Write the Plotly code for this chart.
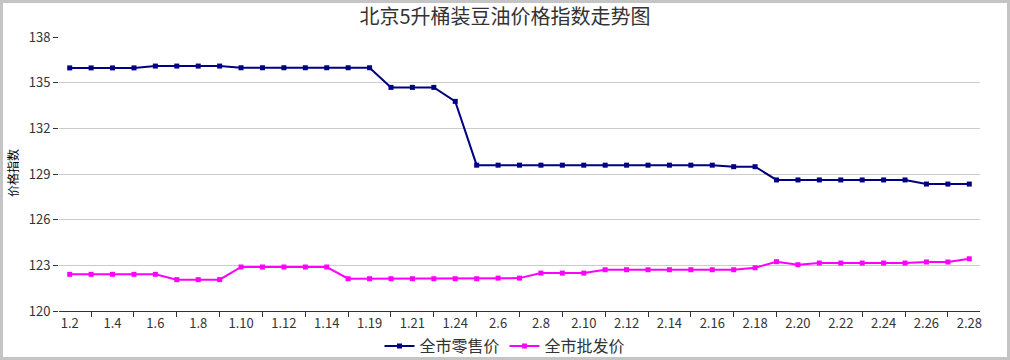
import plotly.graph_objects as go

dates = ["1.2", "1.3", "1.4", "1.5", "1.6", "1.7", "1.8", "1.9", "1.10", "1.11",
         "1.12", "1.13", "1.14", "1.15", "1.19", "1.20", "1.21", "1.22", "1.24", "1.25",
         "2.6", "2.7", "2.8", "2.9", "2.10", "2.11", "2.12", "2.13", "2.14", "2.15",
         "2.16", "2.17", "2.18", "2.19", "2.20", "2.21", "2.22", "2.23", "2.24", "2.25",
         "2.26", "2.27", "2.28"]

retail = [135.97, 135.97, 135.97, 135.97, 136.09, 136.09, 136.09, 136.09, 135.98, 135.98,
          135.98, 135.98, 135.98, 135.98, 135.98, 134.69, 134.69, 134.69, 133.77, 129.58,
          129.58, 129.58, 129.58, 129.58, 129.58, 129.58, 129.58, 129.58, 129.58, 129.58,
          129.58, 129.48, 129.48, 128.61, 128.61, 128.61, 128.61, 128.61, 128.61, 128.61,
          128.34, 128.34, 128.34]

wholesale = [122.41, 122.41, 122.41, 122.41, 122.41, 122.06, 122.06, 122.06, 122.89, 122.89,
             122.89, 122.89, 122.89, 122.12, 122.12, 122.12, 122.12, 122.12, 122.12, 122.12,
             122.16, 122.16, 122.49, 122.49, 122.49, 122.71, 122.71, 122.71, 122.71, 122.71,
             122.71, 122.71, 122.84, 123.24, 123.04, 123.15, 123.15, 123.15, 123.15, 123.15,
             123.22, 123.22, 123.43]

series_names = ["全市零售价", "全市批发价"]
title_text = "北京5升桶装豆油价格指数走势图"
y_title = "价格指数"

FONT = "Noto Sans CJK SC, Noto Sans, sans-serif"
idx = list(range(len(dates)))

fig = go.Figure()
fig.add_trace(go.Scatter(
    x=idx, y=retail, name=series_names[0], mode="lines+markers",
    line=dict(color="#000080", width=2),
    marker=dict(symbol="square", size=5, color="#000080"),
))
fig.add_trace(go.Scatter(
    x=idx, y=wholesale, name=series_names[1], mode="lines+markers",
    line=dict(color="#ff00ff", width=2),
    marker=dict(symbol="square", size=5, color="#ff00ff"),
))

L, R, T, B = 59, 30, 37, 49
W, H = 1010, 360
pw, ph = W - L - R, H - T - B

def px_x(p):
    return (p - L) / pw

def px_y(p):
    return (H - B - p) / ph

fig.update_layout(
    width=W, height=H,
    margin=dict(l=L, r=R, t=T, b=B, pad=0, autoexpand=False),
    paper_bgcolor="white", plot_bgcolor="white",
    font=dict(family=FONT, color="#333333", size=13),
    title=dict(text=title_text, x=0.5, xref="container", xanchor="center",
               y=1 - 17 / H, yref="container", yanchor="middle",
               font=dict(size=20, color="#333333", family=FONT)),
    showlegend=True,
    legend=dict(orientation="h", x=0.5, xanchor="center", xref="container",
                y=px_y(346), yanchor="middle",
                font=dict(size=16, color="#333333", family=FONT),
                bgcolor="rgba(0,0,0,0)", itemwidth=30),
    xaxis=dict(
        range=[-0.5, len(dates) - 0.5],
        tickmode="array", tickvals=idx[::2], ticktext=dates[::2],
        ticks="",
        showline=True, linecolor="#333333", linewidth=1,
        showgrid=False, zeroline=False,
        tickfont=dict(size=13, color="#333333"),
        minor=dict(tickmode="array", tickvals=idx[1::2], ticks="outside",
                   ticklen=5, tickcolor="#333333", tickwidth=1, showgrid=False),
    ),
    yaxis=dict(
        range=[120, 138], tickmode="linear", tick0=120, dtick=3,
        ticks="outside", ticklen=5, tickcolor="#333333",
        showline=False, showgrid=True, gridcolor="#cccccc", gridwidth=1,
        zeroline=False, tickfont=dict(size=13, color="#333333"),
    ),
    annotations=[dict(text=y_title, xref="paper", yref="paper",
                      x=px_x(12), y=px_y(173), showarrow=False, textangle=-90,
                      xanchor="center", yanchor="middle",
                      font=dict(size=12, color="#000000", family=FONT))],
    shapes=[dict(type="rect", xref="paper", yref="paper",
                 x0=px_x(1.5), x1=px_x(1008.5), y0=px_y(358.5), y1=px_y(1.5),
                 line=dict(color="#c4c4c4", width=3), fillcolor="rgba(0,0,0,0)",
                 layer="below")],
)

fig.write_html("out.html",
               config={"displayModeBar": False},
               post_script="document.body.style.margin='0';document.body.style.padding='0';")
